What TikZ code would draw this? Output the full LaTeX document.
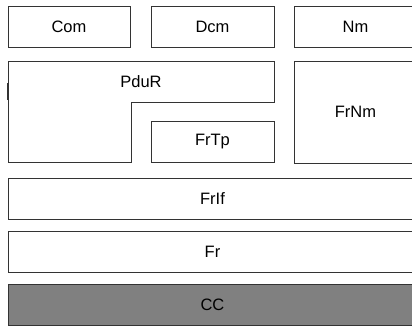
\documentclass[tikz,border=0pt]{standalone}
\usepackage{fontspec}
\setmainfont{Liberation Sans}
\begin{document}
\begin{tikzpicture}[x=1pt,y=-1pt,
  blk/.style={draw=black!80,line width=1pt,fill=white},
  lbl/.style={font=\fontsize{16.5}{18}\selectfont,inner sep=0pt}]
\useasboundingbox (0,0) rectangle (412,327);
\begin{scope}
\clip (0,0) rectangle (412,327);
\draw[blk] (8,6) rectangle (130,47);
\node[lbl] (com) at (69,26.5) {Com};
\draw[blk] (151,6) rectangle (274,47);
\node[lbl] (dcm) at (212.5,26.5) {Dcm};
\draw[blk] (294,6) rectangle (417,47);
\node[lbl] (nm) at (355.5,26.5) {Nm};
\draw[blk] (8,61) -- (274,61) -- (274,102) -- (131,102) -- (131,162) -- (8,162) -- cycle;
\draw[black!80,line width=1.8pt] (8,83) -- (8,100);
\node[lbl] (pdur) at (141,81.5) {PduR};
\draw[blk] (151,121) rectangle (274,162);
\node[lbl] (frtp) at (212.5,141.5) {FrTp};
\draw[blk] (294,61) rectangle (417,163);
\node[lbl] (frnm) at (355.5,112) {FrNm};
\draw[blk] (8,178) rectangle (417,219);
\node[lbl] (frif) at (212.5,198.5) {FrIf};
\draw[blk] (8,231) rectangle (417,272);
\node[lbl] (fr) at (212.5,251.5) {Fr};
\draw[blk,fill=black!50] (8,284) rectangle (417,325);
\node[lbl] (cc) at (212.5,304.5) {CC};
\end{scope}
\end{tikzpicture}
\end{document}
